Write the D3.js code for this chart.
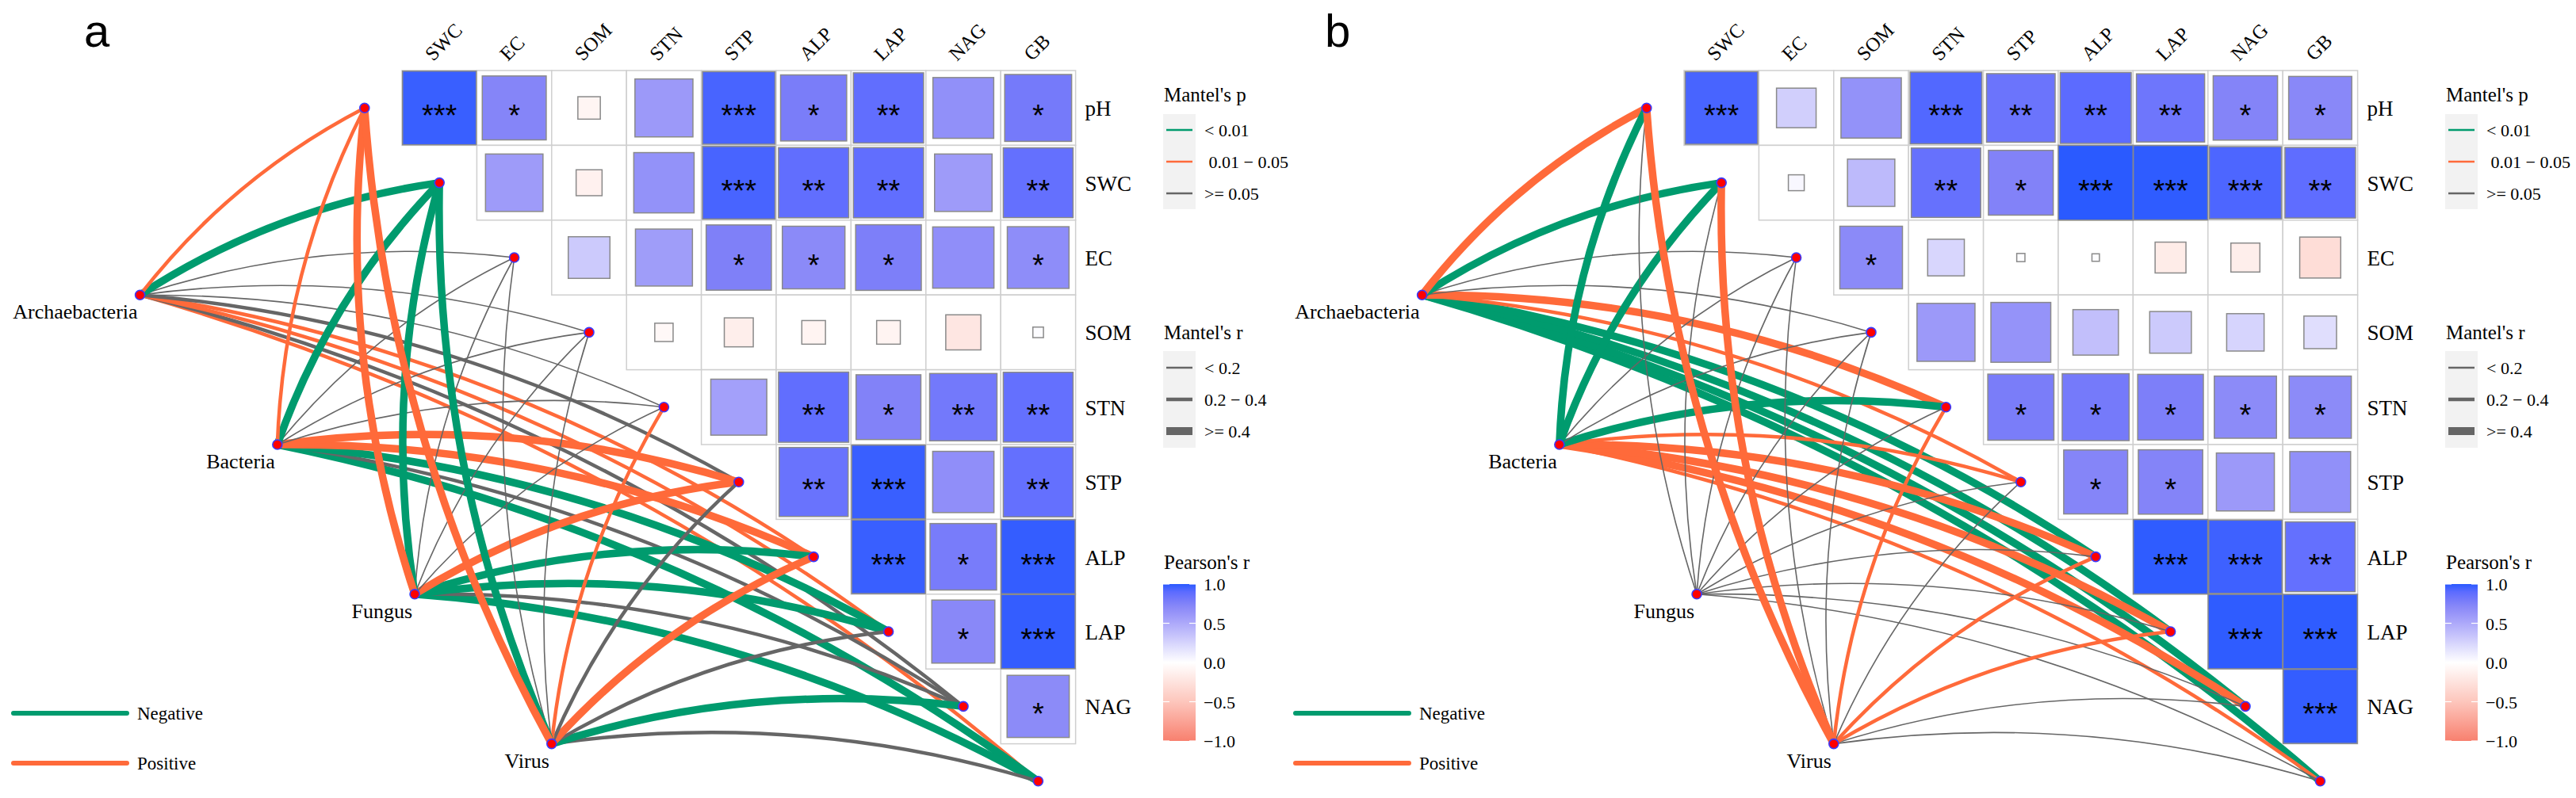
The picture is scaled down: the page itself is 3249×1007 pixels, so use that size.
<!DOCTYPE html>
<html>
<head>
<meta charset="utf-8">
<script src="https://cdn.jsdelivr.net/npm/d3@7"></script>
<style>
  body { margin: 0; background: #fff; }
  text { font-family: "Liberation Serif", "Times New Roman", serif; fill: #000; }
</style>
</head>
<body>
<div id="chart"></div>
<script>
// ---- data ----
var envVars = ["pH", "SWC", "EC", "SOM", "STN", "STP", "ALP", "LAP", "NAG", "GB"];
var rowVars = envVars.slice(0, 9);
var colVars = envVars.slice(1);
var specs = ["Archaebacteria", "Bacteria", "Fungus", "Virus"];

var pLevels = ["< 0.01", " 0.01 \u2212 0.05", ">= 0.05"];
var rLevels = ["< 0.2", "0.2 \u2212 0.4", ">= 0.4"];
var colorTicks = [1.0, 0.5, 0.0, -0.5, -1.0];

// Pearson's r, upper triangle, one array per row (columns from the row's own position on)
var corrA = [
  [0.97, 0.73, -0.09, 0.60, 0.94, 0.78, 0.88, 0.66, 0.80],
  [0.59, -0.12, 0.65, 0.94, 0.88, 0.88, 0.59, 0.87],
  [0.31, 0.58, 0.76, 0.70, 0.77, 0.67, 0.68],
  [-0.06, -0.15, -0.10, -0.10, -0.22, 0.02],
  [0.56, 0.88, 0.75, 0.81, 0.87],
  [0.85, 0.97, 0.67, 0.87],
  [0.97, 0.79, 0.98],
  [0.71, 0.98],
  [0.69]
];
var starsA = [
  ["***", "*", "", "", "***", "*", "**", "", "*"],
  ["", "", "", "***", "**", "**", "", "**"],
  ["", "", "*", "*", "*", "", "*"],
  ["", "", "", "", "", ""],
  ["", "**", "*", "**", "**"],
  ["**", "***", "", "**"],
  ["***", "*", "***"],
  ["*", "***"],
  ["*"]
];
var corrB = [
  [0.94, 0.28, 0.65, 0.92, 0.84, 0.90, 0.83, 0.74, 0.71],
  [0.045, 0.40, 0.86, 0.75, 1.00, 0.99, 0.93, 0.89],
  [0.70, 0.24, 0.012, 0.01, -0.17, -0.15, -0.30],
  [0.60, 0.64, 0.37, 0.31, 0.25, 0.19],
  [0.78, 0.80, 0.77, 0.69, 0.69],
  [0.73, 0.74, 0.60, 0.66],
  [0.99, 0.96, 0.87],
  [0.99, 0.99],
  [0.98]
];
var starsB = [
  ["***", "", "", "***", "**", "**", "**", "*", "*"],
  ["", "", "**", "*", "***", "***", "***", "**"],
  ["*", "", "", "", "", "", ""],
  ["", "", "", "", "", ""],
  ["*", "*", "*", "*", "*"],
  ["*", "*", "", ""],
  ["***", "***", "**"],
  ["***", "***"],
  ["***"]
];

// Mantel test: one row per spec group, one entry per env variable (pH ... GB)
var G = pLevels[0], O = pLevels[1], Y = pLevels[2];
var s = rLevels[0], m = rLevels[1], t = rLevels[2];
var mantelPA = [
  [O, G, Y, Y, Y, Y, O, O, Y, O],
  [O, G, Y, Y, Y, O, O, G, Y, G],
  [O, G, Y, Y, Y, O, G, G, Y, G],
  [O, G, Y, Y, O, Y, O, Y, G, Y]
];
var mantelRA = [
  [m, t, s, s, s, m, m, m, m, m],
  [m, t, s, s, s, t, t, t, m, t],
  [t, t, s, s, s, t, t, t, m, t],
  [t, t, s, s, m, m, t, m, t, m]
];
var mantelPB = [
  [O, G, Y, Y, O, O, G, G, G, G],
  [G, G, Y, Y, G, O, O, O, O, O],
  [Y, Y, Y, Y, Y, Y, Y, Y, Y, Y],
  [O, O, Y, Y, O, Y, O, O, Y, Y]
];
var mantelRB = [
  [t, t, s, s, t, m, t, t, t, t],
  [t, t, s, s, t, m, t, t, t, m],
  [s, s, s, s, s, s, s, s, s, s],
  [t, t, s, s, m, s, m, m, s, s]
];

// ---- drawing ----
var W = 3249, H = 1007;
var cell = 94.4, y0 = 89;
var specOff = [-3.5, -1.665, 0.17, 2.0];

var svg = d3.select("#chart").append("svg").attr("width", W).attr("height", H);
svg.append("rect").attr("width", W).attr("height", H).attr("fill", "#fff");
var defs = svg.append("defs");

var fillScale = d3.scaleLinear()
  .domain([-1, -0.5, 0, 0.5, 0.75, 0.9, 1])
  .range(["#F8806F", "#FDC6BC", "#FFFFFF", "#ADA9FA", "#8282F8", "#5C6BFF", "#2A5AFF"])
  .interpolate(d3.interpolateRgb);
var pColor = d3.scaleOrdinal().domain(pLevels).range(["#009B6E", "#FF6A3A", "#666666"]);
var rWidth = d3.scaleOrdinal().domain(rLevels).range([1.6, 4.5, 9.5]);
var rKeyWidth = d3.scaleOrdinal().domain(rLevels).range([2.5, 4.5, 10]);

var panels = [
  { label: "a", labelX: 106, x0: 507, corr: corrA, stars: starsA, mp: mantelPA, mr: mantelRA },
  { label: "b", labelX: 1671, x0: 2124, corr: corrB, stars: starsB, mp: mantelPB, mr: mantelRB }
];

panels.forEach(function (p, pi) {
  var g = svg.append("g");
  var x0 = p.x0;
  var xBand = d3.scaleBand().domain(colVars).range([x0, x0 + 9 * cell]);
  var yBand = d3.scaleBand().domain(rowVars).range([y0, y0 + 9 * cell]);
  var nodeX = d3.scaleLinear().domain([0, 1]).range([x0 - cell / 2, x0 + cell / 2]);
  var nodeY = d3.scaleLinear().domain([0, 1]).range([y0 + cell / 2, y0 + 1.5 * cell]);

  var envNodes = envVars.map(function (v, i) { return { name: v, x: nodeX(i), y: nodeY(i) }; });
  var specNodes = specs.map(function (v, k) {
    return { name: v, x: x0 + cell * specOff[k], y: y0 + cell * (2 * k + 3) };
  });

  // panel letter
  g.append("text").attr("x", p.labelX).attr("y", 59)
    .style("font-family", "'Liberation Sans', Arial, sans-serif")
    .style("font-size", "58px").text(p.label);

  // mantel links
  var links = [];
  specNodes.forEach(function (sn, k) {
    envNodes.forEach(function (en, i) {
      links.push({ s: sn, e: en, p: p.mp[k][i], r: p.mr[k][i], i: i });
    });
  });
  links.sort(function (a, b) { return b.i - a.i; });
  g.append("g").selectAll("path").data(links).enter().append("path")
    .attr("d", function (d) {
      var dx = d.e.x - d.s.x, dy = d.e.y - d.s.y;
      var cx = (d.s.x + d.e.x) / 2 + 0.11 * dy, cy = (d.s.y + d.e.y) / 2 - 0.11 * dx;
      return "M" + d.s.x + "," + d.s.y + "Q" + cx + "," + cy + " " + d.e.x + "," + d.e.y;
    })
    .attr("fill", "none")
    .attr("stroke", function (d) { return pColor(d.p); })
    .attr("stroke-width", function (d) { return rWidth(d.r); });

  // correlation cells
  var cells = [];
  p.corr.forEach(function (row, i) {
    row.forEach(function (r, jj) {
      cells.push({ row: rowVars[i], col: colVars[i + jj], r: r, star: p.stars[i][jj] });
    });
  });
  var cg = g.append("g");
  cg.selectAll("rect.frame").data(cells).enter().append("rect")
    .attr("class", "frame")
    .attr("x", function (d) { return xBand(d.col); })
    .attr("y", function (d) { return yBand(d.row); })
    .attr("width", xBand.bandwidth()).attr("height", yBand.bandwidth())
    .attr("fill", "#fff").attr("stroke", "#CFCFCF").attr("stroke-width", 1.5);
  cg.selectAll("rect.sq").data(cells).enter().append("rect")
    .attr("class", "sq")
    .attr("x", function (d) { return xBand(d.col) + (cell - cell * Math.sqrt(Math.abs(d.r))) / 2; })
    .attr("y", function (d) { return yBand(d.row) + (cell - cell * Math.sqrt(Math.abs(d.r))) / 2; })
    .attr("width", function (d) { return cell * Math.sqrt(Math.abs(d.r)); })
    .attr("height", function (d) { return cell * Math.sqrt(Math.abs(d.r)); })
    .attr("fill", function (d) { return fillScale(d.r); })
    .attr("stroke", "#8A8A8A").attr("stroke-width", 1.5);
  cg.selectAll("text.star").data(cells.filter(function (d) { return d.star; })).enter().append("text")
    .attr("class", "star")
    .attr("x", function (d) { return xBand(d.col) + cell / 2; })
    .attr("y", function (d) { return yBand(d.row) + cell / 2 + 23; })
    .attr("text-anchor", "middle")
    .style("font-family", "'Liberation Sans', Arial, sans-serif")
    .style("font-size", "38px")
    .text(function (d) { return d.star; });

  // column labels (rotated) and row labels
  g.selectAll("text.col").data(colVars).enter().append("text")
    .attr("class", "col")
    .attr("transform", function (d) { return "translate(" + (xBand(d) + cell / 2 - 8) + ",78) rotate(-45)"; })
    .style("font-size", "25px").text(function (d) { return d; });
  g.selectAll("text.row").data(rowVars).enter().append("text")
    .attr("class", "row")
    .attr("x", x0 + 9 * cell + 12)
    .attr("y", function (d) { return yBand(d) + cell / 2 + 10; })
    .style("font-size", "27px").text(function (d) { return d; });

  // nodes
  g.selectAll("circle.node").data(envNodes.concat(specNodes)).enter().append("circle")
    .attr("class", "node")
    .attr("cx", function (d) { return d.x; }).attr("cy", function (d) { return d.y; })
    .attr("r", 6).attr("fill", "#FF0000").attr("stroke", "#3A3AFF").attr("stroke-width", 1.6);
  g.selectAll("text.spec").data(specNodes).enter().append("text")
    .attr("class", "spec")
    .attr("x", function (d) { return d.x - 3; }).attr("y", function (d) { return d.y + 30; })
    .attr("text-anchor", "end").style("font-size", "26px")
    .text(function (d) { return d.name; });

  // bottom-left sign legend
  var sg = g.append("g");
  [["Negative", "#009B6E", 900], ["Positive", "#FF6A3A", 963]].forEach(function (e) {
    sg.append("line").attr("x1", x0 - 490).attr("x2", x0 - 347).attr("y1", e[2]).attr("y2", e[2])
      .attr("stroke", e[1]).attr("stroke-width", 6).attr("stroke-linecap", "round");
    sg.append("text").attr("x", x0 - 334).attr("y", e[2] + 8).style("font-size", "23px").text(e[0]);
  });

  // right legends
  var lx = x0 + 960;
  var lg = g.append("g");
  lg.append("text").attr("x", lx + 1).attr("y", 128).style("font-size", "25px").text("Mantel's p");
  lg.append("rect").attr("x", lx).attr("y", 144).attr("width", 41).attr("height", 120).attr("fill", "#F2F2F2");
  pLevels.forEach(function (lv, k) {
    var ky = 164 + 40 * k;
    lg.append("line").attr("x1", lx + 4).attr("x2", lx + 37).attr("y1", ky).attr("y2", ky)
      .attr("stroke", pColor(lv)).attr("stroke-width", 2.5);
    lg.append("text").attr("x", lx + 52).attr("y", ky + 8).style("font-size", "22px")
      .style("white-space", "pre").attr("xml:space", "preserve").text(lv);
  });
  lg.append("text").attr("x", lx + 1).attr("y", 428).style("font-size", "25px").text("Mantel's r");
  lg.append("rect").attr("x", lx).attr("y", 443).attr("width", 41).attr("height", 122).attr("fill", "#F2F2F2");
  rLevels.forEach(function (lv, k) {
    var ky = 464 + 40 * k;
    lg.append("line").attr("x1", lx + 4).attr("x2", lx + 37).attr("y1", ky).attr("y2", ky)
      .attr("stroke", "#666666").attr("stroke-width", rKeyWidth(lv));
    lg.append("text").attr("x", lx + 52).attr("y", ky + 8).style("font-size", "22px").text(lv);
  });

  lg.append("text").attr("x", lx + 1).attr("y", 718).style("font-size", "25px").text("Pearson's r");
  var barY = d3.scaleLinear().domain([-1, 1]).range([935, 737]);
  var gid = "pearson" + pi;
  var grad = defs.append("linearGradient").attr("id", gid)
    .attr("x1", 0).attr("y1", 0).attr("x2", 0).attr("y2", 1);
  d3.range(0, 21).forEach(function (k) {
    var v = 1 - k / 10;
    grad.append("stop").attr("offset", (k / 20 * 100) + "%").attr("stop-color", fillScale(v));
  });
  lg.append("rect").attr("x", lx).attr("y", barY(1)).attr("width", 41).attr("height", barY(-1) - barY(1))
    .attr("fill", "url(#" + gid + ")");
  colorTicks.forEach(function (v) {
    var ty = barY(v);
    lg.append("line").attr("x1", lx).attr("x2", lx + 8).attr("y1", ty).attr("y2", ty)
      .attr("stroke", "#fff").attr("stroke-width", 1.2);
    lg.append("line").attr("x1", lx + 33).attr("x2", lx + 41).attr("y1", ty).attr("y2", ty)
      .attr("stroke", "#fff").attr("stroke-width", 1.2);
    lg.append("text").attr("x", lx + 51).attr("y", ty + 8).style("font-size", "22px")
      .text(v.toFixed(1).replace("-", "\u2212"));
  });
});
</script>
</body>
</html>
